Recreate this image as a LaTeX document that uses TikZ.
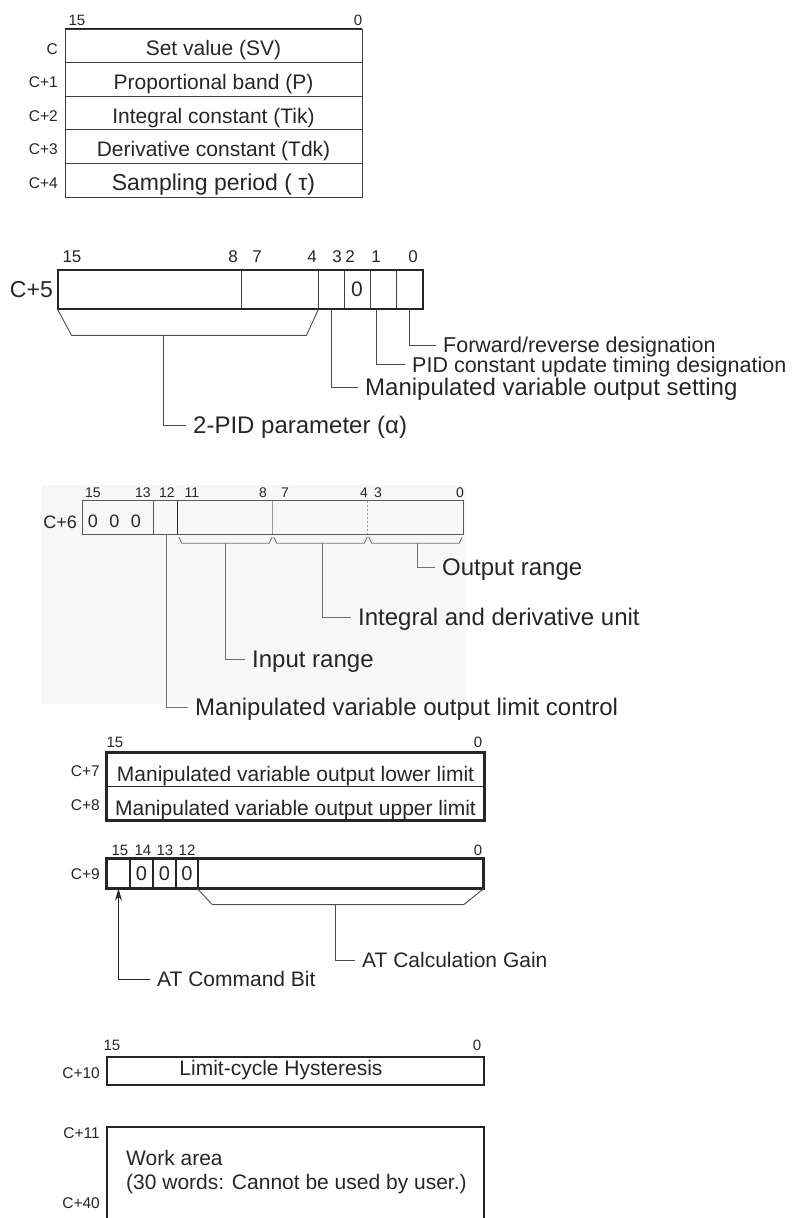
\documentclass[tikz,border=0pt]{standalone}
\usepackage{fontspec}
\setmainfont{Liberation Sans}
\usetikzlibrary{arrows.meta,calc}
\begin{document}
\begin{tikzpicture}[x=1pt,y=-1pt,
  bitnum/.style={inner sep=0pt, font=\fontsize{15}{17}\selectfont, text=black!85},
  bitnumS/.style={inner sep=0pt, font=\fontsize{14}{16}\selectfont, text=black!85},
  bitnumL/.style={inner sep=0pt, font=\fontsize{17}{19}\selectfont, text=black!85},
  wname/.style={anchor=east, inner sep=0pt, font=\fontsize{15.5}{17}\selectfont, text=black!85},
  rowcell/.style={draw=black!75, line width=0.8pt, inner sep=0pt, minimum width=297pt, minimum height=33.6pt, font=\fontsize{21}{24}\selectfont, text height=20pt, text depth=0pt, text=black!85},
  cellA/.style={draw=black!75, line width=0.8pt, inner sep=0pt, minimum height=39pt, font=\fontsize{21}{24}\selectfont, text=black!85},
  cellB/.style={inner sep=0pt, minimum height=33pt},
  cellC/.style={draw=black!85, line width=1.3pt, inner sep=0pt, minimum height=29pt, font=\fontsize{20}{22}\selectfont, text=black!85},
  wide/.style={draw=black!85, line width=1.2pt, inner sep=0pt, minimum width=377pt, font=\fontsize{21}{24}\selectfont, text height=24pt, text depth=0pt, text=black!85},
  lab/.style={anchor=west, inner xsep=7pt, inner ysep=0pt, text depth=0pt, text=black!85},
  lab21/.style={lab, font=\fontsize{21}{24}\selectfont, text height=15pt},
  lab215/.style={lab, font=\fontsize{21.5}{24}\selectfont, text height=15.4pt},
  lab24/.style={lab, font=\fontsize{24}{28}\selectfont, text height=17pt},
  conn/.style={draw=black!70, line width=0.9pt},
  conn6/.style={draw=black!55, line width=0.9pt},
  frame/.style={draw=black!85, line width=2pt},
]
\useasboundingbox (0,0) rectangle (794,1218);

% ---------- C .. C+4
\node[bitnum] (n1a) at (77,20) {15};
\node[bitnum] (n1b) at (358,20) {0};
\node[rowcell] (r0) at (213.5,45.8) {Set value (SV)};
\node[rowcell] (r1) at (213.5,79.4) {Proportional band (P)};
\node[rowcell] (r2) at (213.5,113) {Integral constant (Tik)};
\node[rowcell] (r3) at (213.5,146.6) {Derivative constant (Tdk)};
\node[rowcell, font=\fontsize{23}{26}\selectfont, text height=20.5pt] (r4) at (213.5,180.2) {Sampling period ( τ)};
\draw[line width=1.5pt, black!90] (r0.north west) -- (r0.north east);
\node[wname] (w0) at (58,48.8) {C};
\node[wname] (w1) at (58,82.4) {C+1};
\node[wname] (w2) at (58,116) {C+2};
\node[wname] (w3) at (58,149.6) {C+3};
\node[wname] (w4) at (58,183.2) {C+4};

% ---------- C+5
\node[bitnumL] (n5a) at (72,257) {15};
\node[bitnumL] (n5b) at (233,257) {8};
\node[bitnumL] (n5c) at (257,257) {7};
\node[bitnumL] (n5d) at (312,257) {4};
\node[bitnumL] (n5e) at (337,257) {3};
\node[bitnumL] (n5f) at (350,257) {2};
\node[bitnumL] (n5g) at (376,257) {1};
\node[bitnumL] (n5h) at (413,257) {0};
\node[wname, font=\fontsize{23}{26}\selectfont] (w5) at (53,290) {C+5};
\node[cellA, minimum width=183pt] (c5a) at (149.5,289.5) {};
\node[cellA, minimum width=77pt] (c5b) at (279.5,289.5) {};
\node[cellA, minimum width=26pt] (c5c) at (331,289.5) {};
\node[cellA, minimum width=26pt] (c5d) at (357,289.5) {0};
\node[cellA, minimum width=26pt] (c5e) at (383,289.5) {};
\node[cellA, minimum width=27pt] (c5f) at (409.5,289.5) {};
\draw[frame] (c5a.north west) rectangle (c5f.south east);
\draw[conn] (c5a.south west) -- ++(14,26) coordinate (b5l) -- ($(c5b.south east)+(-12,26)$) coordinate (b5r) -- (c5b.south east);
\coordinate (b5) at (163,335);
\node[lab215] (lfr) at (436,345) {Forward/reverse designation};
\node[lab215] (lpid) at (405,364.5) {PID constant update timing designation};
\node[lab24] (lmv) at (358,387) {Manipulated variable output setting};
\node[lab24] (l2pid) at (186,425) {2-PID parameter (α)};
\draw[conn] (c5f.south) |- (lfr.west);
\draw[conn] ([xshift=-7pt]c5e.south) |- (lpid.west);
\draw[conn] (c5c.south) |- (lmv.west);
\draw[conn] (b5) |- (l2pid.west);

% ---------- C+6
\fill[black!3] (42,485) rectangle (465,704);
\node[bitnumS] (n6a) at (93,493) {15};
\node[bitnumS] (n6b) at (143,493) {13};
\node[bitnumS] (n6c) at (167,493) {12};
\node[bitnumS] (n6d) at (192,493) {11};
\node[bitnumS] (n6e) at (263,493) {8};
\node[bitnumS] (n6f) at (285,493) {7};
\node[bitnumS] (n6g) at (364,493) {4};
\node[bitnumS] (n6h) at (378,493) {3};
\node[bitnumS] (n6i) at (460,493) {0};
\node[wname, font=\fontsize{18}{20}\selectfont] (w6) at (77,522) {C+6};
\node[cellB, minimum width=71pt] (c6a) at (118.5,517.5) {};
\node[cellB, minimum width=24pt] (c6b) at (166,517.5) {};
\node[cellB, minimum width=95pt] (c6c) at (225.5,517.5) {};
\node[cellB, minimum width=95pt] (c6d) at (320.5,517.5) {};
\node[cellB, minimum width=95pt] (c6e) at (415.5,517.5) {};
\draw[line width=0.9pt, black!65] (c6a.north west) rectangle (c6e.south east);
\draw[line width=0.9pt, black!65] (c6b.north west) -- (c6b.south west);
\draw[line width=1pt, black!85] (c6c.north west) -- (c6c.south west);
\draw[line width=0.8pt, black!40] (c6d.north west) -- (c6d.south west);
\draw[line width=0.8pt, black!40, dash pattern=on 2pt off 2pt] (c6e.north west) -- (c6e.south west);
\node[font=\fontsize{18}{20}\selectfont, text=black!85, inner sep=0pt] (z6) at (114.5,521) {0\hspace{11.5pt}0\hspace{11.5pt}0};
\foreach \c in {c6c,c6d,c6e}
  \draw[conn6] ($(\c.south west)+(1,3)$) -- ++(3,6) -- ($(\c.south east)+(-4,9)$) -- ++(3,-6);
\node[lab24] (lout) at (435,567) {Output range};
\node[lab24] (lint) at (351,617) {Integral and derivative unit};
\node[lab24] (linp) at (245,659) {Input range};
\node[lab24] (llim) at (188,707) {Manipulated variable output limit control};
\draw[conn6] ($(c6e.south)+(1.5,9)$) |- (lout.west);
\draw[conn6] ($(c6d.south)+(1.5,9)$) |- (lint.west);
\draw[conn6] ($(c6c.south)+(0,9)$) |- (linp.west);
\draw[conn6] (c6b.south) |- (llim.west);

% ---------- C+7 / C+8
\node[bitnum] (n7a) at (115,742) {15};
\node[bitnum] (n7b) at (478,742) {0};
\node[wide, minimum height=33.5pt] (r7) at (295.5,769.75) {Manipulated variable output lower limit};
\node[wide, minimum height=33.5pt] (r8) at (295.5,803.25) {Manipulated variable output upper limit};
\draw[frame] (r7.north west) rectangle (r8.south east);
\node[wname] (w7) at (100,771) {C+7};
\node[wname] (w8) at (100,805) {C+8};

% ---------- C+9
\node[bitnum] (n9a) at (120,850) {15};
\node[bitnum] (n9b) at (143,850) {14};
\node[bitnum] (n9c) at (165,850) {13};
\node[bitnum] (n9d) at (187,850) {12};
\node[bitnum] (n9e) at (478,850) {0};
\node[wname] (w9) at (100,874) {C+9};
\node[cellC, minimum width=23pt] (c9a) at (118.5,873.5) {};
\node[cellC, minimum width=23pt] (c9b) at (141.5,873.5) {0};
\node[cellC, minimum width=23pt] (c9c) at (164.5,873.5) {0};
\node[cellC, minimum width=22pt] (c9d) at (187,873.5) {0};
\node[cellC, minimum width=285pt] (c9e) at (340.5,873.5) {};
\draw[frame] (c9a.north west) rectangle (c9e.south east);
\draw[conn] (c9e.south west) -- ++(15,16) -- ($(c9e.south east)+(-20,16)$) -- (c9e.south east);
\coordinate (b9) at (335,904);
\node[lab21] (lgain) at (355,960) {AT Calculation Gain};
\node[lab21] (lcmd) at (150,979) {AT Command Bit};
\draw[conn] (b9) |- (lgain.west);
\draw[conn, draw=black!85, -{Stealth[length=12pt,width=7pt]}] (lcmd.west) -| (c9a.south);

% ---------- C+10
\node[bitnum] (n10a) at (112,1045) {15};
\node[bitnum] (n10b) at (477,1045) {0};
\node[frame, inner sep=0pt, minimum width=377pt, minimum height=28pt] (r10) at (295.5,1071) {};
\node[font=\fontsize{21}{24}\selectfont, text=black!85, inner sep=0pt, text height=15pt, text depth=6pt] (t10) at (281,1071) {Limit-cycle Hysteresis};
\node[wname] (w10) at (100,1073) {C+10};

% ---------- C+11 .. C+40
\coordinate (wa1) at (107,1222);
\coordinate (wa2) at (484,1222);
\draw[frame] (wa1) -- (107,1127) -- (484,1127) -- (wa2);
\node[anchor=west, align=left, inner sep=0pt, font=\fontsize{21}{24}\selectfont, text=black!85] (twa) at (126,1172) {Work area\\(30 words: Cannot be used by user.)};
\node[wname] (w11) at (100,1133) {C+11};
\node[wname] (w40) at (100,1203) {C+40};
\end{tikzpicture}
\end{document}
